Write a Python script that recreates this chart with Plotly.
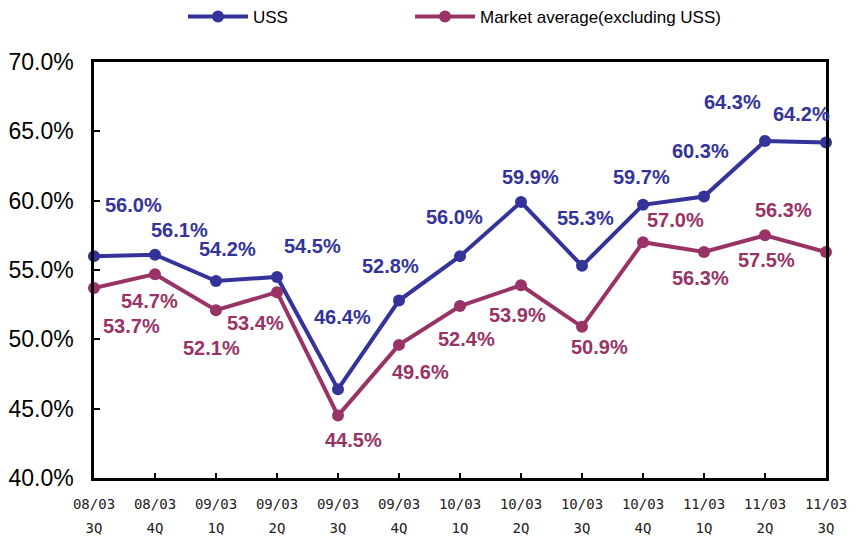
import plotly.graph_objects as go

# ---- data ----
period_year = ["08/03", "08/03", "09/03", "09/03", "09/03", "09/03", "10/03",
               "10/03", "10/03", "10/03", "11/03", "11/03", "11/03"]
period_quarter = ["3Q", "4Q", "1Q", "2Q", "3Q", "4Q", "1Q", "2Q", "3Q", "4Q",
                  "1Q", "2Q", "3Q"]
uss = [56.0, 56.1, 54.2, 54.5, 46.4, 52.8, 56.0, 59.9, 55.3, 59.7, 60.3, 64.3, 64.2]
market = [53.7, 54.7, 52.1, 53.4, 44.5, 49.6, 52.4, 53.9, 50.9, 57.0, 56.3, 57.5, 56.3]
y_ticks = [40, 45, 50, 55, 60, 65, 70]
y_tick_labels = [f"{v:.1f}%" for v in y_ticks]

series_names = ["USS", "Market average(excluding USS)"]

# ---- styling (label offsets in pixels: dx right, dy down) ----
uss_color = "#333399"
market_color = "#993366"
uss_label_offsets = [(39, -51), (24, -25), (11, -32), (35, -31), (4, -72), (-9, -35),
                     (-6, -39), (9, -25), (3, -48), (-2, -28), (-4, -46), (-33, -39),
                     (-25, -28)]
market_label_offsets = [(37, 38), (-6, 27), (-5, 38), (-22, 31), (15, 24), (21, 27),
                        (6, 33), (-4, 30), (17, 20), (32, -22), (-4, 26), (1, 25),
                        (-43, -42)]

# page body has an 8px default margin; plot area in page px: x 94..826, y 62..478
PAGE_OFF = 8
PLOT_L, PLOT_R, PLOT_T, PLOT_B = 94, 826, 62, 478
W, H = 856, 541
plot_w = PLOT_R - PLOT_L
plot_h = PLOT_B - PLOT_T

xs = list(range(len(period_year)))

fig = go.Figure()
fig.add_trace(go.Scatter(
    x=xs, y=uss, name=series_names[0], mode="lines+markers",
    line=dict(color=uss_color, width=4), marker=dict(color=uss_color, size=12),
    cliponaxis=False, legend="legend"))
fig.add_trace(go.Scatter(
    x=xs, y=market, name=series_names[1], mode="lines+markers",
    line=dict(color=market_color, width=4), marker=dict(color=market_color, size=12),
    cliponaxis=False, legend="legend2"))
# invisible helper trace for the second tick-label row
fig.add_trace(go.Scatter(
    x=xs, y=uss, xaxis="x2", mode="lines", line=dict(width=0), opacity=0,
    showlegend=False, hoverinfo="skip"))

annotations = []
for vals, offs, col in [(uss, uss_label_offsets, uss_color),
                        (market, market_label_offsets, market_color)]:
    for i, (v, (dx, dy)) in enumerate(zip(vals, offs)):
        annotations.append(dict(
            x=xs[i], y=v, xref="x", yref="y", text=f"{v:.1f}%", showarrow=False,
            xshift=dx, yshift=-dy,
            font=dict(family="Liberation Sans, Arial", size=20, color=col, weight="bold")))

tick_font = dict(family="DejaVu Sans Mono", size=14, color="#222222")
legend_font = dict(family="Liberation Sans, Arial", size=17, color="black")
legend_y = 1 + (PLOT_T - 17) / plot_h

fig.update_layout(
    width=W, height=H,
    margin=dict(l=PLOT_L - PAGE_OFF, r=W - (PLOT_R - PAGE_OFF),
                t=PLOT_T - PAGE_OFF, b=H - (PLOT_B - PAGE_OFF), autoexpand=False),
    paper_bgcolor="white", plot_bgcolor="white",
    showlegend=True,
    legend=dict(orientation="h", x=(183 - PLOT_L) / plot_w, xanchor="left", y=legend_y,
                yanchor="middle", font=legend_font, itemwidth=60,
                bgcolor="rgba(0,0,0,0)"),
    legend2=dict(orientation="h", x=(410 - PLOT_L) / plot_w, xanchor="left", y=legend_y,
                 yanchor="middle", font=legend_font, itemwidth=60,
                 bgcolor="rgba(0,0,0,0)"),
    xaxis=dict(range=[0, len(xs) - 1], tickmode="array", tickvals=xs, ticktext=period_year,
               ticks="inside", ticklen=5, tickwidth=2, tickcolor="black",
               showline=True, linecolor="black", linewidth=2.5, mirror=True,
               showgrid=False, zeroline=False, tickfont=tick_font, ticklabelstandoff=11,
               automargin=False),
    xaxis2=dict(range=[0, len(xs) - 1], overlaying="x", anchor="y", side="bottom",
                tickmode="array", tickvals=xs, ticktext=period_quarter, ticks="",
                showline=False, showgrid=False, zeroline=False, tickfont=tick_font,
                ticklabelstandoff=40, automargin=False),
    yaxis=dict(range=[y_ticks[0], y_ticks[-1]], tickmode="array", tickvals=y_ticks,
               ticktext=y_tick_labels, ticks="inside", ticklen=6, tickwidth=2,
               tickcolor="black", showline=True, linecolor="black", linewidth=2.5,
               mirror=True, showgrid=False, zeroline=False,
               tickfont=dict(family="Liberation Sans, Arial", size=23, color="black"),
               ticklabelstandoff=13, automargin=False),
    annotations=annotations,
)

fig.write_html("out.html")
